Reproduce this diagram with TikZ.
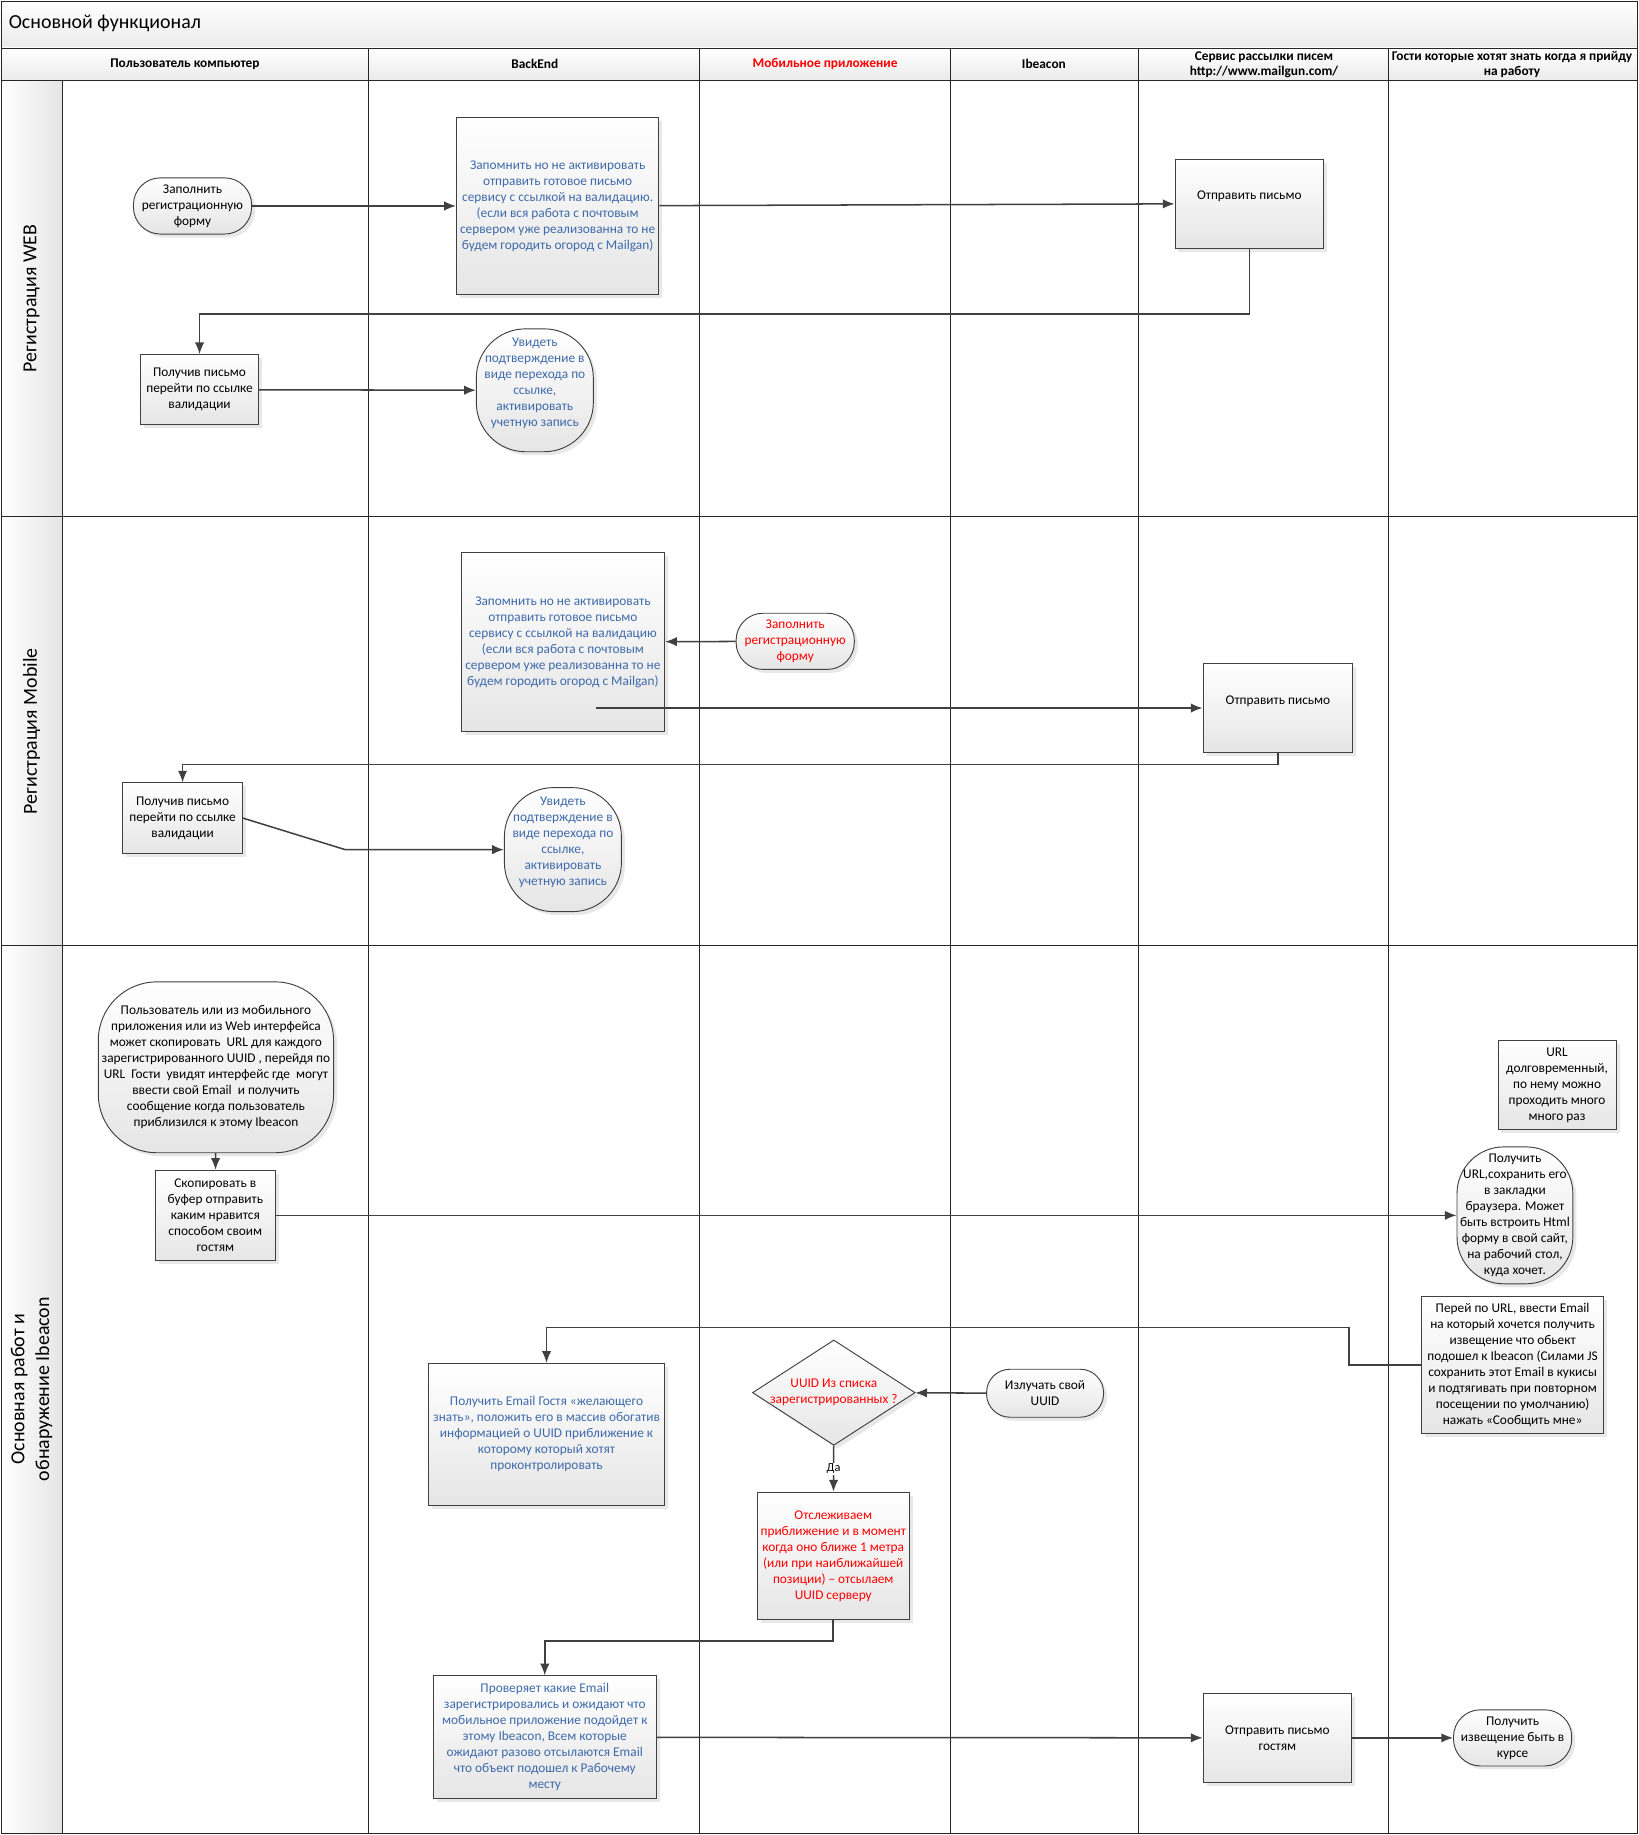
\documentclass[tikz,border=0pt]{standalone}
\usepackage{fontspec}
\setmainfont{Carlito}
\usepackage{tikz}
\usetikzlibrary{arrows.meta,shapes.geometric,shadows,positioning}

\definecolor{vblue}{RGB}{62,106,170}
\newcommand{\boxfont}{\fontsize{11.4}{13.7}\selectfont}
\newcommand{\headfont}{\fontsize{11.4}{13}\selectfont\bfseries}
\newcommand{\lanefont}{\fontsize{17}{21}\selectfont}

\begin{document}
\begin{tikzpicture}[x=1pt,y=-1pt,
		box/.style={draw=black!75,line width=0.8pt,top color=white,bottom color=black!10,
			drop shadow={shadow xshift=3pt,shadow yshift=-3pt,opacity=0.18},
			align=center,font=\boxfont,inner sep=0pt},
		term/.style={box,rounded corners=23pt},
		oval/.style={box,rounded corners=42pt},
		flow/.style={draw=black!75,line width=1.3pt,-{Latex[length=10pt,width=8pt]}},
		grid/.style={draw=black!85,line width=0.7pt}]
		\useasboundingbox (0,0) rectangle (1400,1568);
		
		% frame, title and headers
		\shade[top color=white,bottom color=black!8] (1,1) rectangle (1399,41);
		\shade[top color=white,bottom color=black!8] (1,41) rectangle (1399,69);
		\shade[left color=white,right color=black!10] (1,69) rectangle (53,1567);
		\draw[grid] (1,1) rectangle (1399,1567);
		\draw[grid] (1,41) -- (1399,41);
		\draw[grid] (1,69) -- (1399,69);
		\draw[grid] (1,441) -- (1399,441);
		\draw[grid] (1,808) -- (1399,808);
		\draw[grid] (53,69) -- (53,1567);
		\foreach \x in {315,598,812,973,1186}
			\draw[grid] (\x,41) -- (\x,1567);
		
		\node[anchor=west,font=\lanefont] (title) at (4,20) {Основной функционал};
		\node[font=\headfont] (hUser) at (158,55) {Пользователь компьютер};
		\node[font=\headfont] (hBack) at (457,55) {BackEnd};
		\node[font=\headfont,text=red] (hMob) at (705,55) {Мобильное приложение};
		\node[font=\headfont] (hBeacon) at (892,55) {Ibeacon};
		\node[font=\headfont,align=center] (hMail) at (1080,55) {Сервис рассылки писем\\http://www.mailgun.com/};
		\node[font=\headfont,align=center] (hGuest) at (1292,55) {Гости которые хотят знать когда я прийду\\на работу};
		
		\node[rotate=90,font=\lanefont] (laneWeb) at (27,255) {Регистрация WEB};
		\node[rotate=90,font=\lanefont] (laneMob) at (27,625) {Регистрация Mobile};
		\node[rotate=90,font=\lanefont,align=center] (laneMain) at (27,1187) {Основная работ и\\обнаружение Ibeacon};
		
		% Регистрация WEB
		\node[term,minimum width=101pt,minimum height=48pt] (fill1) at (164.5,176) {Заполнить\\регистрационную\\форму};
		\node[box,text=vblue,minimum width=173pt,minimum height=152pt] (back1) at (476.5,176) {Запомнить но не активировать\\отправить готовое письмо\\сервису с ссылкой на валидацию.\\(если вся работа с почтовым\\сервером уже реализованна то не\\будем городить огород с Mailgan)};
		\node[box,minimum width=127pt,minimum height=76pt] (send1) at (1067.5,174) {Отправить письмо\\\mbox{}};
		\node[box,minimum width=101pt,minimum height=60pt] (recv1) at (170.5,333) {Получив письмо\\перейти по ссылке\\валидации};
		\node[oval,text=vblue,minimum width=100pt,minimum height=105pt] (see1) at (457,333.5) {Увидеть\\подтверждение в\\виде перехода по\\ссылке,\\активировать\\учетную запись\\\mbox{}};
		
		\draw[flow] (fill1) -- (back1);
		\draw[flow] (back1) -- (send1);
		\draw[flow] (send1.south) -- ++(0,56) -| (recv1.north);
		\draw[flow] (recv1) -- (see1);
		
		% Регистрация Mobile
		\node[box,text=vblue,minimum width=174pt,minimum height=153pt] (back2) at (481,548.5) {Запомнить но не активировать\\отправить готовое письмо\\сервису с ссылкой на валидацию\\(если вся работа с почтовым\\сервером уже реализованна то не\\будем городить огород с Mailgan)};
		\node[term,text=red,minimum width=101pt,minimum height=48pt] (fill2) at (679.5,548) {Заполнить\\регистрационную\\форму};
		\node[box,minimum width=128pt,minimum height=76pt] (send2) at (1092,605) {Отправить письмо\\\mbox{}};
		\node[box,minimum width=102pt,minimum height=60pt] (recv2) at (156,699) {Получив письмо\\перейти по ссылке\\валидации};
		\node[oval,text=vblue,minimum width=100pt,minimum height=106pt] (see2) at (481,726) {Увидеть\\подтверждение в\\виде перехода по\\ссылке,\\активировать\\учетную запись\\\mbox{}};
		\coordinate (out2) at (509,605);
		\coordinate (bend2) at (295,726);
		
		\draw[flow] (fill2) -- (back2);
		\draw[flow] (out2) -- (send2.west);
		\draw[flow] (send2.south) -- ++(0,10) -| (recv2.north);
		\draw[flow] (recv2.east) -- (bend2) -- (see2.west);
		
		% Основная работа
		\node[box,rounded corners=50pt,minimum width=201pt,minimum height=146pt] (user3) at (184.5,912) {Пользователь или из мобильного\\приложения или из Web интерфейса\\может скопировать~ URL для каждого\\зарегистрированного UUID , перейдя по\\URL~ Гости~ увидят интерфейс где~ могут\\ввести свой Email~ и получить\\сообщение когда пользователь\\приблизился к этому Ibeacon};
		\node[box,minimum width=102pt,minimum height=77pt] (copy3) at (184,1038.5) {Скопировать в\\буфер отправить\\каким нравится\\способом своим\\гостям};
		\node[box,minimum width=101pt,minimum height=76pt] (url3) at (1330.5,927) {URL\\долговременный,\\по нему можно\\проходить много\\много раз};
		\node[oval,rounded corners=40pt,minimum width=99pt,minimum height=117pt] (get3) at (1294.5,1038.5) {Получить\\URL,сохранить его\\в закладки\\браузера. Может\\быть встроить Html\\форму в свой сайт,\\на рабочий стол,\\куда хочет.};
		\node[box,minimum width=155pt,minimum height=117pt] (go3) at (1292.5,1166.5) {Перей по URL, ввести Email\\на который хочется получить\\извещение что обьект\\подошел к Ibeacon (Силами JS\\сохранить этот Email в кукисы\\и подтягивать при повторном\\посещении по умолчанию)\\нажать «Сообщить мне»};
		\node[box,text=vblue,minimum width=202pt,minimum height=121pt] (email3) at (467,1225.5) {Получить Email Гостя «желающего\\знать», положить его в массив обогатив\\информацией о UUID приближение к\\которому который хотят\\проконтролировать};
		\node[term,rounded corners=20pt,minimum width=100pt,minimum height=41pt] (emit3) at (893,1190.5) {Излучать свой\\UUID};
		\node[box,diamond,minimum width=139pt,minimum height=90pt,
			label={[font=\boxfont,text=red,align=center]center:UUID Из списка\\зарегистрированных ?}] (dia3) at (712.5,1190) {};
		\node[box,text=red,minimum width=130pt,minimum height=109pt] (track3) at (712,1329.5) {Отслеживаем\\приближение и в момент\\когда оно ближе 1 метра\\(или при наиближайшей\\позиции) – отсылаем\\UUID серверу};
		\node[box,text=vblue,minimum width=191pt,minimum height=105pt] (check3) at (465.5,1484.5) {Проверяет какие Email\\зарегистрировались и ожидают что\\мобильное приложение подойдет к\\этому Ibeacon, Всем которые\\ожидают разово отсылаются Email\\что объект подошел к Рабочему\\месту};
		\node[box,minimum width=127pt,minimum height=76pt] (send3) at (1091.5,1485) {Отправить письмо\\гостям};
		\node[term,minimum width=101pt,minimum height=48pt] (notify3) at (1292.5,1485) {Получить\\извещение быть в\\курсе};
		
		\draw[flow] (user3) -- (copy3);
		\draw[flow] (copy3) -- (get3);
		\draw[flow] (go3.west) -- ++(-62,0) -- ++(0,-32) -| (email3.north);
		\draw[flow] (emit3) -- (dia3);
		\draw[flow] (dia3) -- node[fill=white,inner sep=1pt,font=\fontsize{10.5}{12}\selectfont] {Да} (track3);
		\draw[flow] (track3.south) -- ++(0,18) -| (check3.north);
		\draw[flow] (check3) -- (send3);
		\draw[flow] (send3) -- (notify3);
\end{tikzpicture}
\end{document}
